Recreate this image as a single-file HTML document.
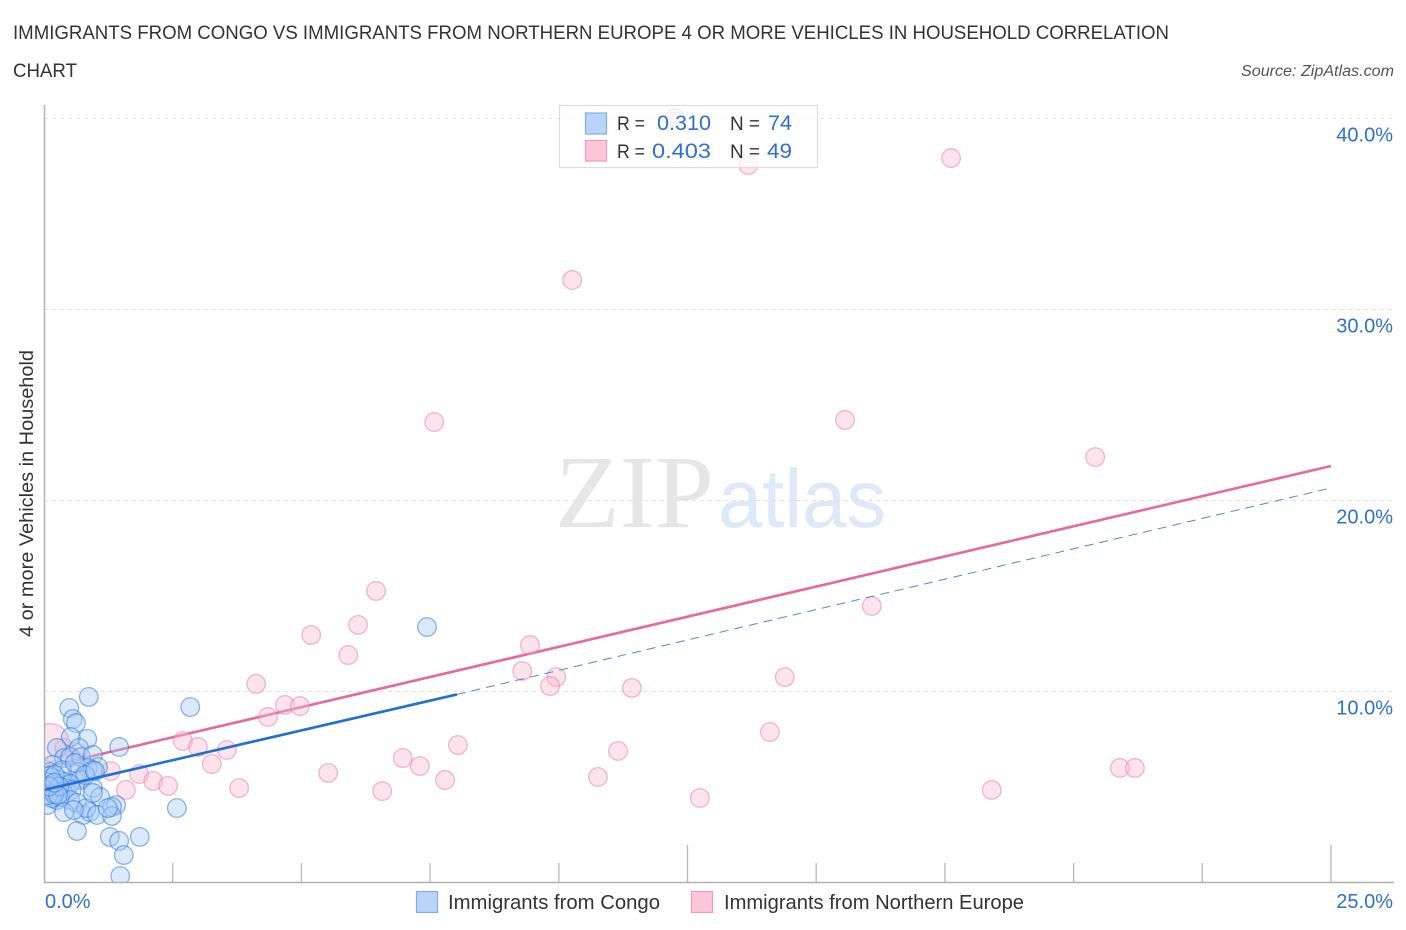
<!DOCTYPE html>
<html lang="en">
<head>
<meta charset="utf-8">
<title>Immigrants from Congo vs Immigrants from Northern Europe 4 or more Vehicles in Household Correlation Chart</title>
<style>
html,body{margin:0;padding:0;background:#fff;}
svg{display:block;font-family:"Liberation Sans",sans-serif;}
</style>
</head>
<body>
<svg id="chart" xmlns="http://www.w3.org/2000/svg" width="1406" height="930" viewBox="0 0 1406 930">
  <defs>
    <clipPath id="plot-clip"><rect x="44" y="100" width="1350" height="782"/></clipPath>
  </defs>
  <text x="13" y="39" font-size="19" fill="#333" textLength="1156" lengthAdjust="spacingAndGlyphs">IMMIGRANTS FROM CONGO VS IMMIGRANTS FROM NORTHERN EUROPE 4 OR MORE VEHICLES IN HOUSEHOLD CORRELATION</text>
  <text x="13" y="77" font-size="19" fill="#333" textLength="64" lengthAdjust="spacingAndGlyphs">CHART</text>
  <text x="1241" y="76" font-size="15.5" font-style="italic" fill="#555" textLength="153" lengthAdjust="spacingAndGlyphs">Source: ZipAtlas.com</text>

  <g>
    <text x="555" y="527" font-family="'Liberation Serif',serif" font-size="104" fill="#e6e6e6" textLength="159" lengthAdjust="spacingAndGlyphs">ZIP</text>
    <text x="718" y="527" font-size="83" fill="#dde9f8" textLength="168" lengthAdjust="spacingAndGlyphs">atlas</text>
  </g>

  <g id="grid"></g>
  <g id="ticks"></g>
  <g id="pink-trend"></g>
  <g id="pink-points" clip-path="url(#plot-clip)"></g>
  <g id="blue-points" clip-path="url(#plot-clip)"></g>
  <g id="blue-trend"></g>

  <line x1="44.5" y1="105" x2="44.5" y2="883" stroke="#b0b0b0" stroke-width="1.4"/>
  <line x1="44" y1="882.5" x2="1394" y2="882.5" stroke="#b0b0b0" stroke-width="1.4"/>

  <g id="y-labels"></g>
  <g id="x-labels"></g>

  <text transform="translate(33,637) rotate(-90)" font-size="19" fill="#333" textLength="287" lengthAdjust="spacingAndGlyphs">4 or more Vehicles in Household</text>

  <g>
    <rect x="559.5" y="105.5" width="258" height="62" fill="#fff" fill-opacity="0.72" stroke="#dcdcdc" stroke-width="1.2"/>
    <rect x="585.5" y="113" width="21" height="21" fill="#b9d4f8" stroke="#7fade8" stroke-width="1.2"/>
    <rect x="585.5" y="140.5" width="21" height="20.5" fill="#fcc6d8" stroke="#f09cb8" stroke-width="1.2"/>
    <text x="617" y="130" font-size="19" fill="#333" textLength="28" lengthAdjust="spacingAndGlyphs">R =</text>
    <text x="657" y="130" font-size="21" fill="#2e6fd0" textLength="54" lengthAdjust="spacingAndGlyphs">0.310</text>
    <text x="730" y="130" font-size="19" fill="#333" textLength="30" lengthAdjust="spacingAndGlyphs">N =</text>
    <text x="768" y="130" font-size="21" fill="#2e6fd0" textLength="24" lengthAdjust="spacingAndGlyphs">74</text>
    <text x="617" y="158" font-size="19" fill="#333" textLength="28" lengthAdjust="spacingAndGlyphs">R =</text>
    <text x="652" y="158" font-size="21" fill="#2e6fd0" textLength="59" lengthAdjust="spacingAndGlyphs">0.403</text>
    <text x="730" y="158" font-size="19" fill="#333" textLength="30" lengthAdjust="spacingAndGlyphs">N =</text>
    <text x="767" y="158" font-size="21" fill="#2e6fd0" textLength="25" lengthAdjust="spacingAndGlyphs">49</text>
  </g>

  <g>
    <g>
      <rect x="416.5" y="891.5" width="21" height="21" fill="#b9d4f8" stroke="#7fade8" stroke-width="1.2"/>
      <text x="448" y="909" font-size="20" fill="#333" textLength="212" lengthAdjust="spacingAndGlyphs">Immigrants from Congo</text>
    </g>
    <g>
      <rect x="691.5" y="891.5" width="21" height="21" fill="#fcc6d8" stroke="#f09cb8" stroke-width="1.2"/>
      <text x="724" y="909" font-size="20" fill="#333" textLength="300" lengthAdjust="spacingAndGlyphs">Immigrants from Northern Europe</text>
    </g>
  </g>
</svg>

<script>
const yTickValues = [10, 20, 30, 40];
const yTickLabels = ["10.0%", "20.0%", "30.0%", "40.0%"];
const xTickValues = [2.5, 5, 7.5, 10, 12.5, 15, 17.5, 20, 22.5, 25];
const xMajorTicks = [12.5, 25];
const xEndLabels = ["0.0%", "25.0%"];
const xEndValues = [0, 25];

const congoX = [7.44,2.84,0.87,0.49,0.56,0.62,0.84,1.46,0.52,0.25,0.68,0.39,0.51,0.72,0.95,1.05,0.85,0.95,0.66,0.17,0.12,0.35,0.16,0.31,0.41,0.70,0.06,0.16,0.23,0.31,0.43,0.51,0.12,0.21,0.37,0.54,0.95,0.06,0.25,0.31,0.51,0.64,0.39,0.76,0.89,0.82,1.03,1.09,0.95,1.40,1.32,1.32,1.24,2.58,0.64,1.28,1.46,1.86,1.55,1.48,0.58,0.15,0.12,0.04,0.08,0.21,0.20,0.60,0.80,0.99,0.30,0.27,0.10,0.20];
const congoY = [13.35,9.16,9.69,9.11,8.53,8.32,7.49,7.07,7.59,7.02,7.02,6.49,6.54,6.54,6.65,6.02,5.97,5.86,5.76,6.13,5.76,5.86,5.45,5.34,5.24,5.34,5.08,4.97,5.08,4.92,4.92,5.13,4.82,4.71,4.71,4.82,4.92,4.03,4.29,4.45,4.29,4.14,3.66,3.51,3.66,3.87,3.51,4.45,4.66,4.03,3.93,3.46,3.87,3.87,2.67,2.36,2.15,2.36,1.41,0.31,3.77,4.40,5.55,5.24,4.55,5.60,4.60,6.23,5.60,5.81,5.00,4.55,5.00,5.20];

const europeX = [0.12,12.26,13.68,17.62,10.26,7.58,15.56,20.42,6.45,16.08,6.10,5.19,5.91,9.44,9.29,9.95,9.83,11.42,14.39,4.12,4.68,4.97,4.35,14.10,2.70,2.99,3.55,3.26,3.79,5.52,6.57,6.97,7.30,7.79,8.04,10.76,11.15,12.74,18.41,20.90,21.19,1.30,1.59,1.85,2.12,2.41,0.39,0.60,0.70];
const europeY = [7.30,40.00,37.54,37.90,31.52,24.08,24.19,22.25,15.24,14.45,13.46,12.93,11.88,12.41,11.05,10.73,10.26,10.16,10.73,10.37,9.27,9.21,8.64,7.85,7.38,7.07,6.91,6.18,4.92,5.71,4.76,6.49,6.07,5.34,7.17,5.50,6.86,4.40,4.82,5.97,5.97,5.81,4.82,5.65,5.29,5.03,7.02,6.81,5.45];

const congoTrendX = [0, 8.02, 25];
const congoTrendY = [4.82, 9.82, 20.63];
const europeTrendX = [0, 25];
const europeTrendY = [6.0, 21.78];

const SVGNS = "http://www.w3.org/2000/svg";
const plotLeft = 44, plotRight = 1331, plotBottom = 882, pxPerPercentY = 19.1;
const pointRadius = 9.3, leadPointRadius = 19;

function xScale(v) { return plotLeft + v / 25 * (plotRight - plotLeft); }
function yScale(v) { return plotBottom - v * pxPerPercentY; }
function make(tag, parent, attrs) {
  const el = document.createElementNS(SVGNS, tag);
  for (const k in attrs) el.setAttribute(k, attrs[k]);
  parent.appendChild(el);
  return el;
}

const gridGroup = document.getElementById("grid");
yTickValues.forEach(function (v) {
  const el = make("line", gridGroup, { x1: 44, x2: 1394, y1: yScale(v) + 0.5, y2: yScale(v) + 0.5, stroke: "#e2e2e2", "stroke-width": 1, "stroke-dasharray": "4 4" });
  
  
});

const tickGroup = document.getElementById("ticks");
xTickValues.forEach(function (v) {
  const top = xMajorTicks.indexOf(v) >= 0 ? 845 : 863;
  const el = make("line", tickGroup, { x1: xScale(v), x2: xScale(v), y1: top, y2: 882, stroke: "#b8b8b8", "stroke-width": 1.3 });
  
  
});

const yLabelGroup = document.getElementById("y-labels");
yTickValues.forEach(function (v, i) {
  const el = make("text", yLabelGroup, { x: 1393, y: yScale(v) + 23.5, "text-anchor": "end", "font-size": 20, fill: "#2e6fd0" });
  el.textContent = yTickLabels[i];
  
  
});

const xLabelGroup = document.getElementById("x-labels");
xEndValues.forEach(function (v, i) {
  const el = make("text", xLabelGroup, { x: i === 0 ? 45 : 1393, y: 908, "text-anchor": i === 0 ? "start" : "end", "font-size": 20, fill: "#2e6fd0" });
  el.textContent = xEndLabels[i];
  
  
});

const europeLine = make("line", document.getElementById("pink-trend"), {
  x1: xScale(europeTrendX[0]), y1: yScale(europeTrendY[0]),
  x2: xScale(europeTrendX[1]), y2: yScale(europeTrendY[1]),
  stroke: "#e8689a", "stroke-width": 2.6
});



const europeGroup = document.getElementById("pink-points");
europeX.forEach(function (v, i) {
  const c = make("circle", europeGroup, {
    cx: xScale(v), cy: yScale(europeY[i]), r: i === 0 ? leadPointRadius : pointRadius,
    fill: "#f8b8cf", "fill-opacity": 0.4, stroke: "#e87fa6", "stroke-opacity": 0.55, "stroke-width": 1.3
  });
  
  
});

const congoGroup = document.getElementById("blue-points");
congoX.forEach(function (v, i) {
  const c = make("circle", congoGroup, {
    cx: xScale(v), cy: yScale(congoY[i]), r: pointRadius,
    fill: "#a9cbf5", "fill-opacity": 0.42, stroke: "#2b7be0", "stroke-opacity": 0.55, "stroke-width": 1.3
  });
  
  
});

const blueTrendGroup = document.getElementById("blue-trend");
const congoSolid = make("line", blueTrendGroup, {
  x1: xScale(congoTrendX[0]), y1: yScale(congoTrendY[0]),
  x2: xScale(congoTrendX[1]), y2: yScale(congoTrendY[1]),
  stroke: "#2070d8", "stroke-width": 2.6
});


const congoDashed = make("line", blueTrendGroup, {
  x1: xScale(congoTrendX[1]), y1: yScale(congoTrendY[1]),
  x2: xScale(congoTrendX[2]), y2: yScale(congoTrendY[2]),
  stroke: "#4a88d8", "stroke-width": 1, "stroke-dasharray": "9 6"
});


</script>
</body>
</html>
